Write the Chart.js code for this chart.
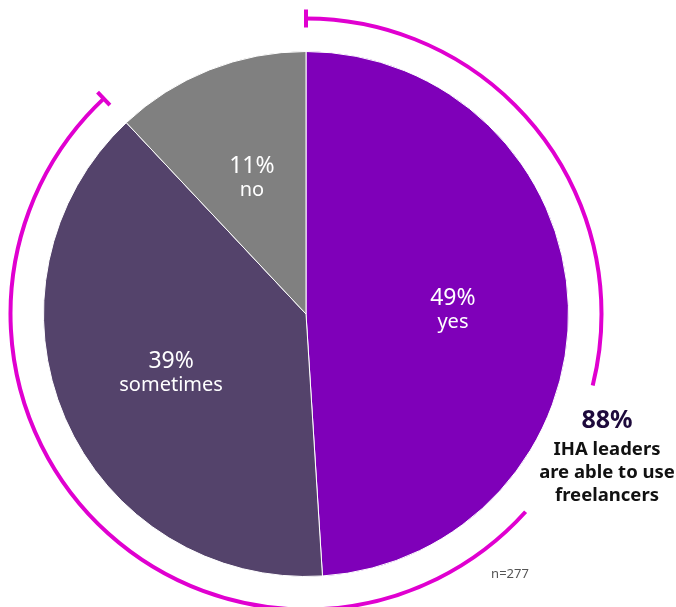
<!DOCTYPE html>
<html>
<head>
<meta charset="utf-8">
<script src="https://cdn.jsdelivr.net/npm/chart.js@4/dist/chart.umd.min.js"></script>
<style>
  html, body { margin: 0; padding: 0; background: #fff; }
  #wrap { width: 676px; height: 607px; position: relative; }
</style>
</head>
<body>
<div id="wrap"><canvas id="pieChart" width="676" height="607"></canvas></div>
<script>
// données
const categories = ['yes', 'sometimes', 'no'];
const values = [49, 39, 12];
const valueLabels = ['49%', '39%', '11%'];
const sliceColors = ['#7f00b9', '#54436b', '#808080'];
const calloutLines = ['88%', 'IHA leaders', 'are able to use', 'freelancers'];
const sampleNote = 'n=277';

const FONT = '"Noto Sans", sans-serif';

// étiquettes dans les parts
const sliceLabels = {
    id: 'sliceLabels',
    afterDatasetsDraw(chart) {
        const ctx = chart.ctx;
        const meta = chart.getDatasetMeta(0);
        ctx.save();
        ctx.fillStyle = '#ffffff';
        ctx.textAlign = 'center';
        ctx.textBaseline = 'middle';
        meta.data.forEach((arc, i) => {
            const mid = (arc.startAngle + arc.endAngle) / 2;
            const r = arc.outerRadius * 0.56;
            const x = arc.x + Math.cos(mid) * r;
            const y = arc.y + Math.sin(mid) * r;
            ctx.font = '23px ' + FONT;
            ctx.fillText(valueLabels[i], x, y - 11);
            ctx.font = '20px ' + FONT;
            ctx.fillText(categories[i], x, y + 13);
        });
        ctx.restore();
    }
};

// arc extérieur (yes + sometimes)
const outerArc = {
    id: 'outerArc',
    afterDatasetsDraw(chart) {
        const ctx = chart.ctx;
        const meta = chart.getDatasetMeta(0);
        const first = meta.data[0];
        const second = meta.data[1];
        const cx = first.x, cy = first.y;
        const R = first.outerRadius + 33;
        const a0 = first.startAngle;
        const a1 = second.endAngle;
        const gapStart = -Math.PI / 2 + (104 / 180) * Math.PI;
        const gapEnd = -Math.PI / 2 + (132 / 180) * Math.PI;
        ctx.save();
        ctx.strokeStyle = '#e000d0';
        ctx.lineWidth = 4;
        ctx.lineCap = 'butt';
        ctx.beginPath();
        ctx.arc(cx, cy, R, a0, gapStart);
        ctx.stroke();
        ctx.beginPath();
        ctx.arc(cx, cy, R, gapEnd, a1);
        ctx.stroke();
        // petites barres aux extrémités
        [a0, a1].forEach(a => {
            const ux = Math.cos(a), uy = Math.sin(a);
            ctx.beginPath();
            ctx.moveTo(cx + ux * (R - 9), cy + uy * (R - 9));
            ctx.lineTo(cx + ux * (R + 9), cy + uy * (R + 9));
            ctx.stroke();
        });
        ctx.restore();
    }
};

// texte à droite + n
const callout = {
    id: 'callout',
    afterDraw(chart) {
        const ctx = chart.ctx;
        ctx.save();
        ctx.textAlign = 'center';
        ctx.textBaseline = 'middle';
        ctx.fillStyle = '#1e0a3c';
        ctx.font = 'bold 25px ' + FONT;
        ctx.fillText(calloutLines[0], 607, 421);
        ctx.fillStyle = '#111111';
        ctx.font = 'bold 18.5px ' + FONT;
        ctx.fillText(calloutLines[1], 607, 450);
        ctx.fillText(calloutLines[2], 607, 473);
        ctx.fillText(calloutLines[3], 607, 496);
        ctx.fillStyle = '#555555';
        ctx.font = '13px ' + FONT;
        ctx.fillText(sampleNote, 510, 574);
        ctx.restore();
    }
};

const ctx = document.getElementById('pieChart').getContext('2d');
new Chart(ctx, {
    type: 'pie',
    data: {
        labels: categories,
        datasets: [{
            data: values,
            backgroundColor: sliceColors,
            borderColor: '#ffffff',
            borderWidth: 1
        }]
    },
    options: {
        responsive: false,
        animation: false,
        layout: { padding: { left: 43, right: 107, top: 51, bottom: 30 } },
        plugins: {
            legend: { display: false },
            tooltip: { enabled: false }
        }
    },
    plugins: [sliceLabels, outerArc, callout]
});
</script>
</body>
</html>
